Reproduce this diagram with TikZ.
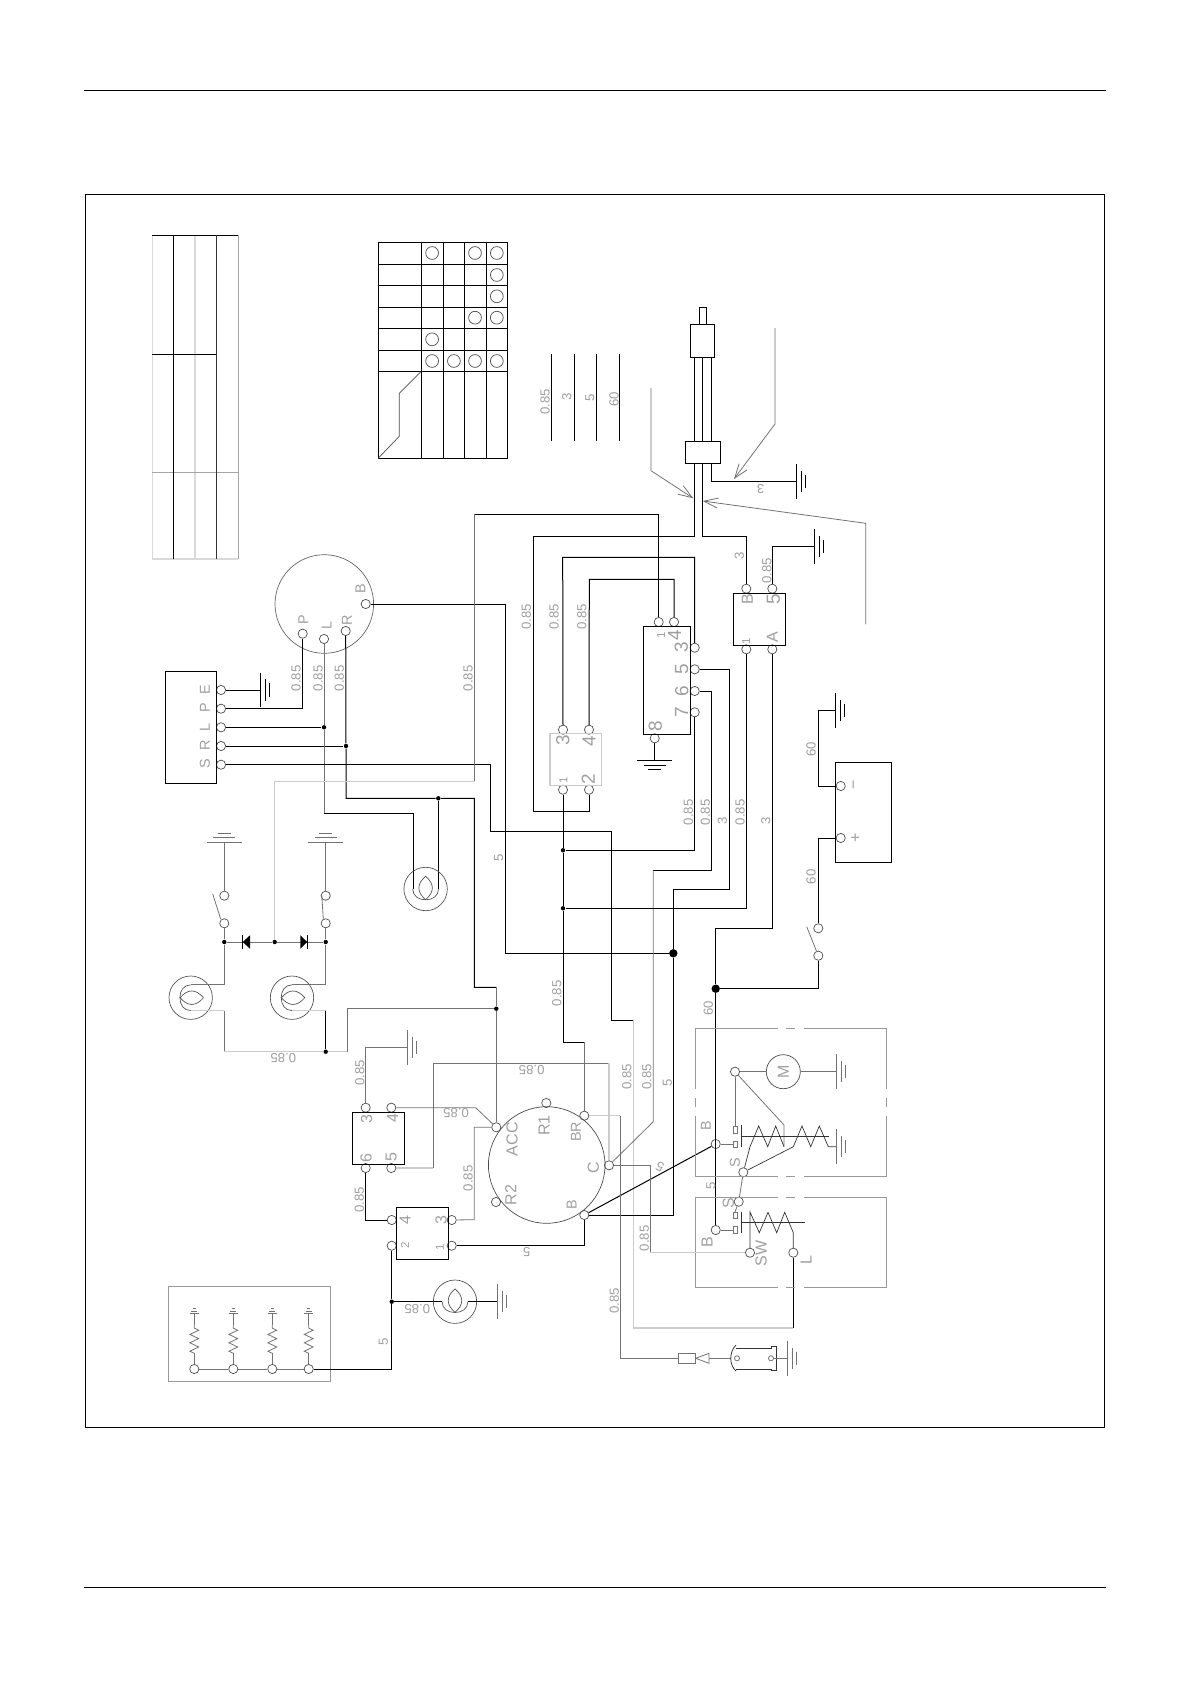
\documentclass[tikz,border=0pt]{standalone}
\usepackage{fontspec}
\setmainfont{Liberation Sans}
\usetikzlibrary{arrows.meta,decorations.pathmorphing}

\begin{document}
\begin{tikzpicture}[x=0.5pt,y=-0.5pt,line join=miter]
\useasboundingbox (0,0) rectangle (1190,1684);
%styles des fils et des bornes
\tikzset{wire/.style={black,line width=0.5pt},wireg/.style={black!55,line width=0.4pt},wirel/.style={gray!40,line width=0.65pt},cad/.style={gray!80,line width=0.45pt}}
\tikzset{pin/.style={circle,draw=black!70,line width=0.35pt,inner sep=0pt,minimum size=4.6pt},junc/.style={circle,fill=black,inner sep=0pt,minimum size=2.2pt},bigjunc/.style={circle,fill=black,inner sep=0pt,minimum size=4.2pt}}
\tikzset{wlab/.style={rotate=90,inner sep=0pt,text=gray!75,font=\fontsize{6.6}{7}\selectfont},wlabr/.style={wlab,rotate=90},plab/.style={wlab,font=\fontsize{8}{9}\selectfont},blab/.style={wlab,font=\fontsize{9.5}{10}\selectfont},slab/.style={wlab,font=\fontsize{5.8}{6}\selectfont}}
\tikzset{massev/.pic={\draw (0,-17.3)--(0,17.3) (4.7,-10.7)--(4.7,10.7) (9,-6.7)--(9,6.7);},masseh/.pic={\draw (-17.5,0)--(17.5,0) (-11,5)--(11,5) (-6.7,9)--(6.7,9);}}
\tikzset{lampe/.pic={\draw (0,0) circle (21.7);\draw (0,-12.8) .. controls (-9,-5) and (-9,3) .. (0,10.6) .. controls (9,3) and (9,-5) .. (0,-12.8);\draw (-12.85,0) .. controls (-12.85,7) and (-7,10.8) .. (0,10.8) .. controls (7,10.8) and (12.85,7) .. (12.85,0);}}

%cadre
\draw[black,line width=0.6pt] (84,90.3)--(1106,90.3) (84,1587.3)--(1106,1587.3);
\draw[black,line width=0.6pt] (85.4,194.3) rectangle (1104.3,1427.3);

%tableau gauche
\draw[gray!30,line width=0.6pt] (152.1,235.3)--(152.1,559) (195,235.3)--(195,559) (152.1,559)--(238.2,559);
\draw[gray!70,line width=0.5pt] (238.2,235.3)--(238.2,559) (152.1,472.7)--(238.2,472.7);
\draw[black,line width=0.5pt] (152.1,235.3)--(238.2,235.3) (173.6,235.3)--(173.6,559) (152.1,354.3)--(216.4,354.3);
\draw[black!80,line width=0.5pt] (216.4,235.3)--(216.4,559);

%matrice de la cle
\draw[black,line width=0.5pt] (378.2,242.3) rectangle (507.5,458.3);
\foreach \mx in {421.4,443.2,464.6,486.4} \draw[black,line width=0.5pt] (\mx,242.3)--(\mx,458.3);
\foreach \my in {264.3,285.3,307.3,328.3,350.3,371.3} \draw[black,line width=0.5pt] (378.2,\my)--(507.5,\my);
\draw[black!70,line width=0.35pt] (378.2,458.3)--(399.3,436.3)--(399.3,393.3)--(421.4,371.3);
\foreach \mx/\my in {432.1/253,475/253,496.8/253,496.8/275,496.8/296.3,475/317.7,496.8/317.7,432.1/339.3,432.1/361,453.9/361,475/361,496.8/361} \draw[black!70,line width=0.35pt] (\mx,\my) circle (6.4);

%legende des sections
\foreach \lx in {551.4,574.5,596.5,619.5} \draw[wire] (\lx,354)--(\lx,440.7);

%demarreur haut
\draw[wire] (699.3,324.3)--(699.3,307.3)--(706.7,307.3)--(706.7,324.3);
\draw[wire] (690.3,324.3) rectangle (714.3,357.3);
\draw[wire] (685.3,441.3) rectangle (720.3,463.3);
\foreach \lx in {694.7,702.7,711.3} \draw[wire] (\lx,357.3)--(\lx,441.3);
\draw[wireg,-{Straight Barb[length=7pt,width=5pt]}] (651,470.7)--(693.3,498.3);
\draw[gray!40,line width=0.6pt] (651,388)--(651,470.7);
\draw[wireg,-{Straight Barb[length=7pt,width=5pt]}] (775,424)--(734,479);
\draw[gray!40,line width=0.6pt] (775,328)--(775,424);
\draw[wireg,-{Straight Barb[length=7pt,width=5pt]}] (865.7,624.3)--(865.7,523.3)--(702.7,501);

%bornes
\node[pin] (cleB) at (365.7,604) {}; \node[pin] (cleP) at (302.7,633.7) {}; \node[pin] (cleL) at (324,639) {}; \node[pin] (cleR) at (345.7,631) {};
\node[pin] (boxE) at (221,690) {}; \node[pin] (boxP) at (221,708.7) {}; \node[pin] (boxL) at (221,727.3) {}; \node[pin] (boxR) at (221,746) {}; \node[pin] (boxS) at (221,764.7) {};
\node[pin] (relA) at (658.7,622) {}; \node[pin] (relD) at (674,622) {}; \node[pin] (relC) at (694.7,647.7) {}; \node[pin] (relE) at (694.7,669.3) {}; \node[pin] (relF) at (694.7,691) {}; \node[pin] (relG) at (694.7,712.3) {}; \node[pin] (relH) at (654.7,738.3) {};
\node[pin] (tabB) at (746.3,588.7) {}; \node[pin] (tabE) at (772.3,588.7) {}; \node[pin] (tabA) at (746.3,649.3) {}; \node[pin] (tabF) at (772.3,649.3) {};
\node[pin] (smlC) at (563,729.7) {}; \node[pin] (smlD) at (589,729.7) {}; \node[pin] (smlA) at (563,789.7) {}; \node[pin] (smlB) at (589,789.7) {};
\node[pin] (batM) at (840.7,786) {}; \node[pin] (batP) at (840.7,838) {};
\node[pin] (swbH) at (818.3,928.3) {}; \node[pin] (swbB) at (818.3,955.7) {};
\node[pin] (swlH) at (224.3,895.7) {}; \node[pin] (swlB) at (224.3,923.3) {}; \node[pin] (swrH) at (325.7,895.7) {}; \node[pin] (swrB) at (325.7,923.3) {};
\node[pin] (midC) at (365.7,1107.7) {}; \node[pin] (midD) at (391.3,1107.7) {}; \node[pin] (midF) at (365.7,1168) {}; \node[pin] (midE) at (391.3,1168) {};
\node[pin] (lowD) at (391.7,1220) {}; \node[pin] (lowB) at (391.7,1245.7) {}; \node[pin] (lowC) at (451.7,1220) {}; \node[pin] (lowA) at (451.7,1245.7) {};
\node[pin] (demA) at (546.3,1103) {}; \node[pin] (demBR) at (584.3,1115.7) {}; \node[pin] (demACC) at (496.3,1127.3) {}; \node[pin] (demR) at (496,1202) {}; \node[pin] (demC) at (609,1165.3) {}; \node[pin] (demB) at (584.3,1215) {};
\node[pin] (motT) at (735,1071.7) {}; \node[pin] (motB) at (715.7,1144) {}; \node[pin] (motS) at (743.3,1172.3) {};
\node[pin] (solS) at (738.7,1201.7) {}; \node[pin] (solB) at (715.7,1230) {}; \node[pin] (solW) at (750,1252.7) {}; \node[pin] (solL) at (793.3,1252.7) {};
\node[pin] (resA) at (194.3,1369) {}; \node[pin] (resB) at (233.3,1369) {}; \node[pin] (resC) at (272.3,1369) {}; \node[pin] (resD) at (308.7,1369) {};
\node[circle,draw=black!70,line width=0.35pt,inner sep=0pt,minimum size=17pt] (motM) at (783.3,1071.7) {};

%points de jonction
\node[junc] (jL) at (324,727.3) {}; \node[junc] (jR) at (346,746) {}; \node[junc] (jLamp) at (438.3,798.3) {};
\node[junc] (jA) at (563,850.3) {}; \node[junc] (jB) at (563,908.3) {}; \node[bigjunc] (jC) at (673.3,953.3) {}; \node[bigjunc] (jD) at (715.7,988.7) {};
\node[junc] (jM) at (274.7,942) {}; \node[junc] (jG) at (224.3,942) {}; \node[junc] (jH) at (325.7,942) {};
\node[junc] (jN) at (325.7,1051.7) {}; \node[junc] (jACC) at (496.3,1008.7) {}; \node[junc] (jLow) at (391.7,1301.7) {};

%boites
\draw[wire] (165.3,671.3) rectangle (216.3,783.3);
\draw[wire] (643.3,626.3) rectangle (690.3,734.3);
\draw[wire] (733.3,593.3) rectangle (785.7,645.3);
\draw[gray!40,line width=0.6pt] (550,733.7) rectangle (601.3,785.7);
\draw[wire] (835.3,762.3) rectangle (891.3,862.3);
\draw[wire] (352.3,1112.3) rectangle (404.7,1164.3);
\draw[wire] (396.3,1207.3) rectangle (448.3,1259.3);
\draw[black!60,line width=0.35pt] (324.3,604) circle (49.3);
\draw[black!70,line width=0.35pt] (546.7,1165) circle (58.3);
\draw[cad] (168.3,1286.7) rectangle (330.7,1381.3);

%fils cle et boite
\draw[wire] (boxP) -| (cleP);
\draw[wire] (boxE) -- (260.3,690);
\pic[wire] at (260.3,690) {massev};
\draw[wire] (boxL) -- (jL);
\draw[wire] (boxR) -- (jR);
\draw[wireg] (cleL) -- (jL) -- (324,813.3);
\draw[wire] (324,813.3) -- (413.3,813.3) -- (413.3,889);
\draw[wire] (cleR) -- (jR) -- (346,798.3) -- (jLamp) -- (474.3,798.3) -- (474.3,987.3) -- (496.3,987.3);
\draw[wire] (jLamp) -- (438.3,889);
\draw[wireg] (496.3,987.3) -- (jACC) -- (demACC);
\draw[wire] (boxS) -- (490.3,764.7) -- (490.3,831.3) -- (611.3,831.3) -- (611.3,1020.3) -- (633.3,1020.3);
\draw[wirel] (633.3,1020.3) -- (633.3,1328) -- (793.3,1328);
\draw[wire] (793.3,1328) -- (solL);
\draw[wire] (cleB) -- (505.3,604) -- (505.3,953.3) -- (jC);
\pic[black!70,line width=0.33pt] at (425.6,889) {lampe};

%fils relais
\draw[wire] (relA) -- (658.7,514.3) -- (474.6,514.3);
\draw[wireg] (474.6,514.3) -- (474.6,781.3);
\draw[wirel] (474.6,781.3) -- (274.7,781.3) -- (jM);
\draw[wire] (relD) -- (674,579.3) -- (589.3,579.3) -- (smlD);
\draw[wire] (relC) -- (694.7,557.3) -- (562.7,557.3) -- (smlC);
\draw[wire] (smlB) -- (589,811) -- (533.3,811) -- (533.3,536.3) -- (694.7,536.3) -- (694.7,463.3);
\draw[wire] (702.7,463.3) -- (702.7,536.3) -- (746.3,536.3) -- (tabB);
\draw[wire] (711.3,463.3) -- (711.3,481.3) -- (796.3,481.3);
\pic[wire] at (796.3,481.3) {massev};
\draw[wire] (tabE) -- (772.3,546.3) -- (814.3,546.3);
\pic[wire] at (814.3,546.3) {massev};
\draw[wire] (relH) -- (654.7,760.3);
\pic[wire] at (654.7,760.3) {masseh};
\draw[wire] (smlA) -- (jA) -- (jB) -- (563,1042) -- (584.3,1042);
\draw[wireg] (584.3,1042) -- (demBR);
\draw[wire] (relG) -- (694.7,850.3) -- (jA);
\draw[wire] (relF) -- (711.3,691) -- (711.3,870.3) -- (653.3,870.3);
\draw[wireg] (653.3,870.3) -- (653.3,1121.7) -- (demC);
\draw[wire] (relE) -- (729.3,669.3) -- (729.3,889.3) -- (673.3,889.3) -- (jC) -- (673.3,1215) -- (demB);
\draw[wire] (tabA) -- (746.3,908.3) -- (jB);
\draw[wire] (tabF) -- (772.3,928.3) -- (715.7,928.3) -- (jD) -- (solB);
\draw[wire] (jD) -- (818.3,988.7) -- (swbB);
\draw[wire] (swbH) -- (818.3,838) -- (batP);
\draw[wireg] (swbB) -- (806.7,926.7);
\draw[wire] (batM) -- (818.3,786) -- (818.3,710.3) -- (835.7,710.3);
\pic[wire] at (835.7,710.3) {massev};

%phares
\draw[wireg] (swlB) -- (jG); \draw[wireg] (swrB) -- (jH);
\draw[wireg] (swlH) -- (224.3,842.3); \draw[wireg] (swrH) -- (325.7,842.3);
\pic[wireg,yscale=-1] at (224.3,842.3) {masseh};
\pic[wireg,yscale=-1] at (325.7,842.3) {masseh};
\draw[wireg] (220.7,919) -- (212.7,894); \draw[wireg] (323.3,919) -- (321.7,894);
\draw[wireg] (jG) -- (jM) -- (jH);
\fill (250,935.3) -- (250,948.7) -- (242.7,942) -- cycle;
\fill (300.3,935.3) -- (300.3,948.7) -- (307.3,942) -- cycle;
\draw[black,line width=0.4pt] (242.7,935.3) -- (242.7,948.7) (307.3,935.3) -- (307.3,948.7);
\pic[black!70,line width=0.33pt,rotate=-90] at (190.7,997.7) {lampe};
\pic[black!70,line width=0.33pt,rotate=-90] at (292,997.7) {lampe};
\draw[wireg] (jG) -- (224.3,984.8) -- (190.7,984.8);
\draw[wireg] (jH) -- (325.7,984.8) -- (292,984.8);
\draw[wirel] (190.7,1010.6) -- (224.3,1010.6);
\draw[wireg] (224.3,1010.6) -- (224.3,1051.7);
\draw[wirel] (224.3,1051.7) -- (jN) -- (347.3,1051.7);
\draw[wirel] (292,1010.6) -- (325.7,1010.6);
\draw[wire] (325.7,1010.6) -- (jN);
\draw[wireg] (347.3,1051.7) -- (347.3,1008.7) -- (jACC);

%bloc central
\draw[wireg] (midC) -- (365.7,1047.3) -- (407.3,1047.3);
\pic[wireg] at (407.3,1047.3) {massev};
\draw[wireg] (midD) -- (475.7,1107.7) -- (demACC);
\draw[wirel] (midE) -- (433.3,1168);
\draw[wireg] (433.3,1168) -- (433.3,1063.3) -- (609,1063.3);
\draw[wirel] (609,1063.3) -- (demC);
\draw[wire] (midF) -- (365.7,1220) -- (lowD);
\draw[wireg] (demACC) -- (474.3,1127.3) -- (474.3,1219.7) -- (lowC);
\draw[wire] (lowA) -- (584.3,1245.7) -- (demB);
\draw[wire] (demB) -- (motB);
\draw[wire] (lowB) -- (jLow) -- (391.7,1369) -- (resD);
\draw[wire] (jLow) -- (442.1,1301.7);
\pic[black!70,line width=0.33pt] at (455,1301.7) {lampe};
\draw[wire] (467.9,1301.7) -- (497.3,1301.7);
\pic[wireg] at (497.3,1301.7) {massev};

%resistances
\draw[wireg] (resA) -- (resB) -- (resC) -- (resD);
\foreach \rx/\rn in {194.3/resA,233.3/resB,272.3/resC,308.7/resD} {
  \draw[wireg] (\rn) -- (\rx,1353.3);
  \draw[wireg,decorate,decoration={zigzag,segment length=4.2pt,amplitude=2.2pt}] (\rx,1353.3) -- (\rx,1325);
  \draw[wireg] (\rx,1325) -- (\rx,1313.7);
  \draw[wireg] (\rx-4.7,1313.7) -- (\rx+4.7,1313.7) (\rx-3,1311) -- (\rx+3,1311) (\rx-1.7,1308.7) -- (\rx+1.7,1308.7);
}

%moteur et solenoides
\foreach \yb in {1028.3,1176.3,1197.3,1287.3} \draw[cad] (695.3,\yb)--(778.3,\yb) (786,\yb)--(795,\yb) (804,\yb)--(886.7,\yb);
\foreach \xb in {695.3,886.7} \draw[cad] (\xb,1028.3)--(\xb,1089.3) (\xb,1098.3)--(\xb,1106.7) (\xb,1116)--(\xb,1176.3);
\draw[cad] (695.3,1197.3)--(695.3,1287.3) (886.7,1197.3)--(886.7,1287.3);
\draw[wireg] (motT) -- (motM) (motM) -- (836.7,1071.7);
\pic[wireg] at (836.7,1071.7) {massev};
\draw[wireg] (motT) -- (735,1126.7);
\draw[wireg] (733,1126.7) rectangle (737,1133.3);
\draw[wireg] (733,1141) rectangle (737,1147.5);
\draw[wireg] (motB) -- (733,1144);
\draw[wireg] (motT) -- (784,1125) -- (784,1146.7);
\draw[black!80,line width=0.35pt] (741.3,1125.3) -- (741.3,1147.3) (741.3,1136.3) -- (829.3,1136.3);
\draw[black!80,line width=0.35pt] (motS) -- (750,1146.7) -- (758.7,1126) -- (767.7,1146.7) -- (775.7,1126) -- (784,1146.7);
\draw[black!80,line width=0.35pt] (motS) -- (793.3,1146.7) -- (802,1126) -- (810.7,1146.7) -- (819.3,1126) -- (828.3,1146.7) -- (836.7,1146.7);
\pic[wireg] at (836.7,1146.7) {massev};
\draw[wireg] (motS) -- (solS);
\draw[wireg] (solS) -- (735,1212);
\draw[wireg] (733,1212) rectangle (737,1218.5);
\draw[wireg] (733,1226.5) rectangle (737,1233);
\draw[wireg] (solB) -- (733,1230);
\draw[black!80,line width=0.35pt] (741.3,1211.7) -- (741.3,1233.3) (741.3,1222) -- (805,1222);
\draw[black!80,line width=0.35pt] (solW) -- (750,1212) -- (759.3,1232.7) -- (768,1212.3) -- (776.7,1232.7) -- (784.7,1212.3) -- (793.3,1232.7) -- (solL);

%connecteur du bas
\draw[wirel] (demBR) -- (620.3,1115.7);
\draw[wireg] (620.3,1115.7) -- (620.3,1358.3) -- (678.3,1358.3);
\draw[wireg] (678.3,1353.3) rectangle (695.7,1363.7);
\draw[wireg] (695.7,1358.3) -- (709,1353.3) -- (709,1363.3) -- cycle;
\draw[wireg] (709,1358.3) -- (730.7,1358.3);
\draw[black!80,line width=0.4pt] (736,1345) .. controls (729,1352) and (729,1365) .. (736,1371);
\draw[black!80,line width=0.4pt] (736,1348.3) -- (771.7,1348.3) -- (771.7,1346) -- (776.7,1346) -- (776.7,1370) -- (771.7,1370) -- (771.7,1369) -- (736,1369);
\draw[wireg] (737,1358.3) circle (2.5) (771,1358.3) circle (2.5);
\draw[wireg] (773.5,1358.3) -- (787.3,1358.3);
\pic[wireg] at (787.3,1358.3) {massev};
\draw[wireg] (demC) -- (650.3,1165.3) -- (650.3,1252.7);
\draw[wirel] (650.3,1252.7) -- (solW);

%textes des fils
\foreach \lx/\ly/\ltxt [count=\i] in {545/401.7/0.85,566.7/397.3/3,590/398.3/5,614/399/60,526.3/616.7/0.85,554/616.7/0.85,581.7/616.7/0.85,739.3/556.3/3,766.7/570.7/0.85,296/678.3/0.85,318/678.3/0.85,339.3/678.3/0.85,468/678.3/0.85,498.7/858.3/5,811/749.3/60,811/876.7/60,688.3/812.3/0.85,705.3/812.3/0.85,722.3/820.7/3,740/812.3/0.85,765.7/820.7/3,556.7/993.3/0.85,708.3/1008.3/60,359.7/1072.7/0.85,359.3/1200/0.85,468/1178.3/0.85,626.7/1076.7/0.85,646.7/1076.7/0.85,667.3/1083.3/5,711/1186/5,644.3/1238.3/0.85,614.3/1301/0.85,383.3/1341.7/5} \node[wlab] (fil\i) at (\lx,\ly) {\ltxt};
\foreach \lx/\ly/\ltxt [count=\i] in {283.3/1058.3/0.85,531.7/1069.7/0.85,456/1113.3/0.85,417.3/1308.7/0.85,526.7/1252.3/5,760.7/489.3/3} \node[wlabr] (inv\i) at (\lx,\ly) {\ltxt};
\node[wlab,rotate=62] (invd) at (660,1166.7) {5};

%textes des bornes
\foreach \lx/\ly/\ltxt [count=\i] in {205/690/E,205/708/P,205/727.3/L,205/745.7/R,205/764/S,360.3/588.3/B,303.3/620/P,326.7/625.7/L,347/620/R,576/1131.7/BR,571.7/1205/B,735/1162.7/S,706/1125.7/B} \node[wlab,font=\fontsize{7.2}{8}\selectfont] (bor\i) at (\lx,\ly) {\ltxt};
\foreach \lx/\ly/\ltxt [count=\i] in {747.3/599.3/B,772.3/637.3/A,544/1125.7/R1,512/1139.3/ACC,510.7/1195/R2,593.3/1168/C,366.7/1119/3,392.7/1118.3/4,366/1158/6,391.3/1156.7/5,405/1219.7/4,441/1220/3,728.3/1203.3/S,707/1241.7/B,761/1253.3/SW,806/1260/L,855.7/785/−,856/838/+,783.3/1071.7/M} \node[plab] (gra\i) at (\lx,\ly) {\ltxt};
\foreach \lx/\ly/\ltxt [count=\i] in {674.7/635/4,681.3/647.7/3,681.7/669.3/5,681.7/691/6,681.7/712.3/7,655.3/726.7/8,773.3/599.3/5,562.7/740.7/3,589/741.7/4,588.3/779/2} \node[blab] (big\i) at (\lx,\ly) {\ltxt};
\foreach \lx/\ly/\ltxt [count=\i] in {661/635/1,746/641/1,563.3/780/1,405/1245.7/2,440/1247.7/1} \node[slab] (pet\i) at (\lx,\ly) {\ltxt};
\end{tikzpicture}
\end{document}
